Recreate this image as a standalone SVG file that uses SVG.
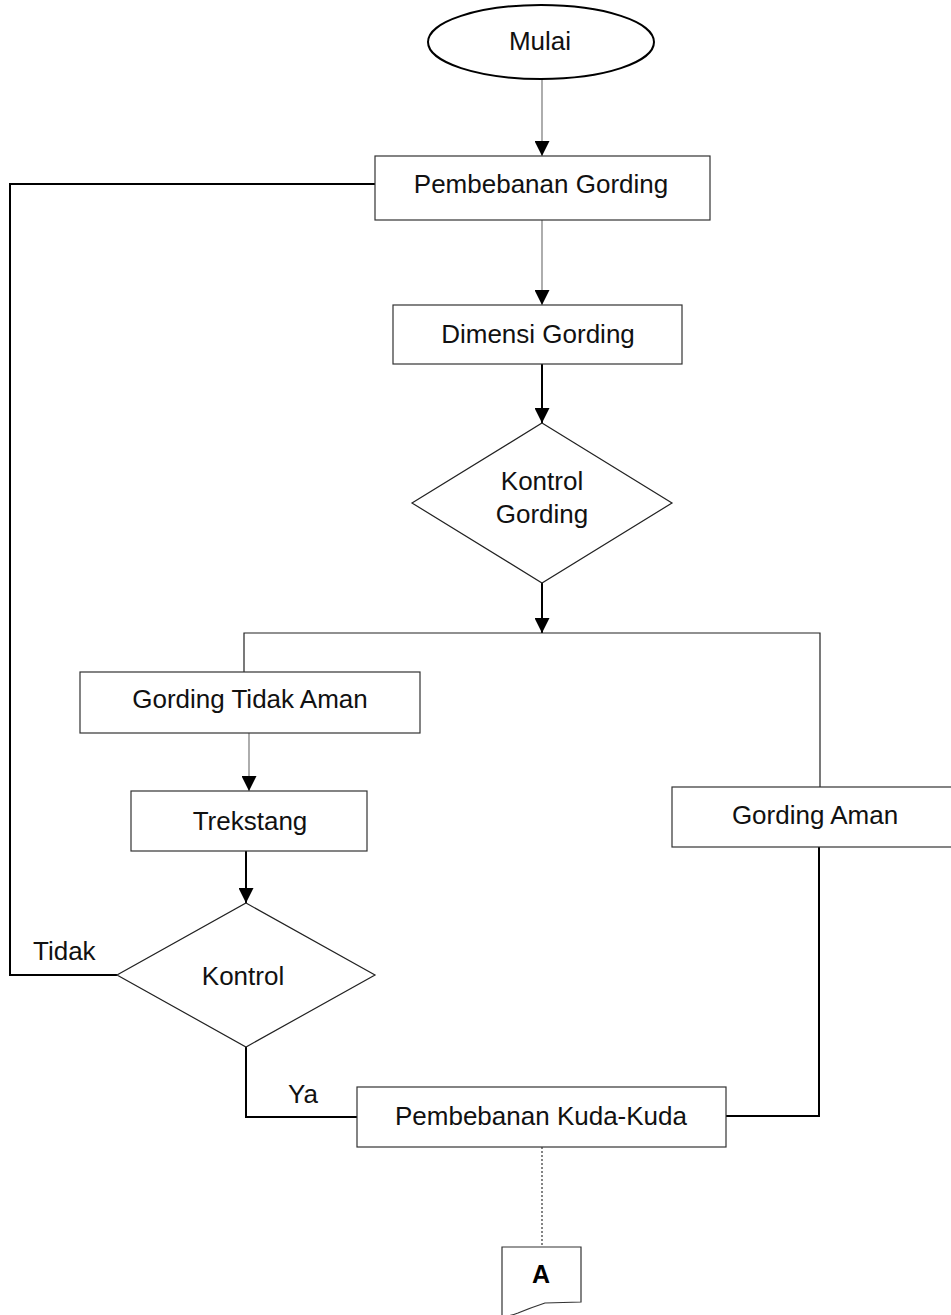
<svg xmlns="http://www.w3.org/2000/svg" width="951" height="1315" viewBox="0 0 951 1315">
<defs>
<marker id="arr" viewBox="0 0 15 15" refX="15" refY="7.5" markerWidth="15" markerHeight="15" markerUnits="userSpaceOnUse" orient="auto">
<path d="M0,0 L15,7.5 L0,15 z" fill="#000"/>
</marker>
</defs>
<style>
.box{fill:#fff;stroke:#333;stroke-width:1.2}
.t{font-family:"Liberation Sans",Arial,sans-serif;font-size:26px;fill:#111;text-anchor:middle}
.thin{fill:none;stroke:#777;stroke-width:1.2}
.thick{fill:none;stroke:#000;stroke-width:2}
.norm{fill:none;stroke:#222;stroke-width:1.2}
</style>
<rect width="951" height="1315" fill="#fff"/>
<g id="connectors">
<line class="thin" x1="542" y1="79" x2="542" y2="156" marker-end="url(#arr)"/>
<line class="thin" x1="542" y1="220" x2="542" y2="305" marker-end="url(#arr)"/>
<line class="thick" x1="542" y1="364" x2="542" y2="423" marker-end="url(#arr)"/>
<line class="thick" x1="542" y1="583" x2="542" y2="633" marker-end="url(#arr)"/>
<path class="norm" d="M244,672 V633 H820 V787"/>
<line class="thin" x1="249" y1="733" x2="249" y2="791" marker-end="url(#arr)"/>
<line class="thick" x1="246" y1="851" x2="246" y2="903" marker-end="url(#arr)"/>
<path class="thick" d="M117,975 H10 V184 H375"/>
<path class="thick" d="M246,1047 V1117 H357"/>
<path class="thick" d="M819,847 V1116 H726"/>
<line x1="542" y1="1147" x2="542" y2="1247" stroke="#333" stroke-width="1.2" stroke-dasharray="2,2"/>
</g>
<g id="mulai">
<ellipse cx="541" cy="42" rx="113" ry="37" fill="#fff" stroke="#000" stroke-width="2"/>
<text class="t" x="540" y="50">Mulai</text>
</g>
<g id="pembebanan-gording">
<rect class="box" x="375" y="156" width="335" height="64"/>
<text class="t" x="541" y="193">Pembebanan Gording</text>
</g>
<g id="dimensi-gording">
<rect class="box" x="393" y="305" width="289" height="59"/>
<text class="t" x="538" y="343">Dimensi Gording</text>
</g>
<g id="kontrol-gording">
<polygon points="542,423 672,503 542,583 412,503" fill="#fff" stroke="#222" stroke-width="1.2"/>
<text class="t" x="542" y="490">Kontrol</text>
<text class="t" x="542" y="523">Gording</text>
</g>
<g id="gording-tidak-aman">
<rect class="box" x="80" y="672" width="340" height="61"/>
<text class="t" x="250" y="708">Gording Tidak Aman</text>
</g>
<g id="trekstang">
<rect class="box" x="131" y="791" width="236" height="60"/>
<text class="t" x="250" y="830">Trekstang</text>
</g>
<g id="kontrol">
<polygon points="246,903 375,975 246,1047 117,975" fill="#fff" stroke="#222" stroke-width="1.2"/>
<text class="t" x="243" y="985">Kontrol</text>
</g>
<g id="label-tidak">
<text class="t" x="33" y="960" style="text-anchor:start">Tidak</text>
</g>
<g id="label-ya">
<text class="t" x="288" y="1103" style="text-anchor:start">Ya</text>
</g>
<g id="gording-aman">
<rect class="box" x="672" y="787" width="300" height="60"/>
<text class="t" x="815" y="824">Gording Aman</text>
</g>
<g id="pembebanan-kuda-kuda">
<rect class="box" x="357" y="1087" width="369" height="60"/>
<text class="t" x="541" y="1125">Pembebanan Kuda-Kuda</text>
</g>
<g id="connector-a">
<path d="M502,1320 V1247 H581 V1302 L545,1303 Q530,1308 518,1313 Q510,1316 502,1317" fill="#fff" stroke="#333" stroke-width="1.2"/>
<text x="541" y="1283" style="font-family:'Liberation Sans',Arial,sans-serif;font-size:25px;font-weight:bold;text-anchor:middle" fill="#000">A</text>
</g>
</svg>
